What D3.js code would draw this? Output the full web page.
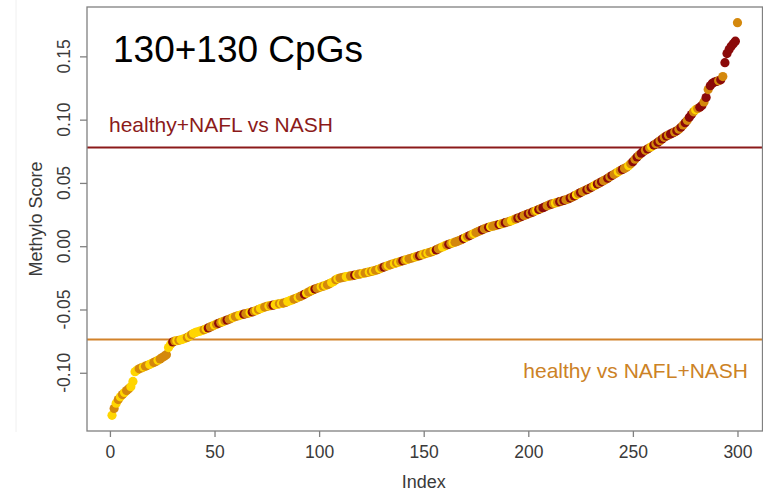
<!DOCTYPE html>
<html>
<head>
<meta charset="utf-8">
<script src="https://cdn.jsdelivr.net/npm/d3@7/dist/d3.min.js"></script>
<style>
  body { margin: 0; background: #fff; }
  svg { display: block; font-family: "Liberation Sans", Arial, sans-serif; }
</style>
</head>
<body>
<svg id="chart" width="763" height="500"></svg>
<script>
// sorted methylation scores, index 1..300
var scores = [
  -0.1336, -0.1282, -0.1241, -0.1212, -0.1190, -0.1172, -0.1156, -0.1141, -0.1126, -0.1110,
  -0.1068, -0.0992, -0.0978, -0.0969, -0.0962, -0.0955, -0.0948, -0.0941, -0.0934, -0.0926,
  -0.0918, -0.0910, -0.0901, -0.0891, -0.0880, -0.0869, -0.0857, -0.0801, -0.0776, -0.0757,
  -0.0749, -0.0746, -0.0743, -0.0739, -0.0734, -0.0728, -0.0721, -0.0711, -0.0699, -0.0688,
  -0.0681, -0.0676, -0.0671, -0.0666, -0.0660, -0.0653, -0.0646, -0.0638, -0.0631, -0.0623,
  -0.0616, -0.0609, -0.0602, -0.0596, -0.0589, -0.0583, -0.0577, -0.0570, -0.0562, -0.0556,
  -0.0551, -0.0546, -0.0541, -0.0537, -0.0533, -0.0529, -0.0524, -0.0519, -0.0514, -0.0507,
  -0.0500, -0.0493, -0.0487, -0.0481, -0.0476, -0.0472, -0.0469, -0.0466, -0.0462, -0.0458,
  -0.0455, -0.0452, -0.0449, -0.0444, -0.0437, -0.0430, -0.0424, -0.0418, -0.0411, -0.0404,
  -0.0397, -0.0389, -0.0380, -0.0371, -0.0362, -0.0353, -0.0345, -0.0339, -0.0333, -0.0327,
  -0.0321, -0.0316, -0.0310, -0.0304, -0.0296, -0.0287, -0.0278, -0.0265, -0.0256, -0.0252,
  -0.0248, -0.0245, -0.0241, -0.0238, -0.0235, -0.0232, -0.0228, -0.0225, -0.0221, -0.0218,
  -0.0214, -0.0211, -0.0207, -0.0203, -0.0199, -0.0195, -0.0190, -0.0185, -0.0178, -0.0171,
  -0.0165, -0.0159, -0.0153, -0.0147, -0.0141, -0.0136, -0.0131, -0.0126, -0.0121, -0.0115,
  -0.0110, -0.0105, -0.0100, -0.0095, -0.0090, -0.0085, -0.0080, -0.0075, -0.0069, -0.0063,
  -0.0058, -0.0053, -0.0048, -0.0043, -0.0036, -0.0029, -0.0021, -0.0013, -0.0006, 0.0002,
  0.0009, 0.0015, 0.0021, 0.0027, 0.0032, 0.0038, 0.0045, 0.0052, 0.0060, 0.0068,
  0.0076, 0.0084, 0.0092, 0.0100, 0.0108, 0.0116, 0.0123, 0.0130, 0.0137, 0.0144,
  0.0149, 0.0154, 0.0158, 0.0162, 0.0167, 0.0171, 0.0176, 0.0181, 0.0186, 0.0191,
  0.0196, 0.0202, 0.0209, 0.0216, 0.0223, 0.0229, 0.0236, 0.0243, 0.0249, 0.0256,
  0.0262, 0.0269, 0.0276, 0.0283, 0.0290, 0.0297, 0.0304, 0.0311, 0.0319, 0.0326,
  0.0332, 0.0337, 0.0342, 0.0347, 0.0352, 0.0357, 0.0362, 0.0367, 0.0373, 0.0380,
  0.0388, 0.0397, 0.0406, 0.0415, 0.0424, 0.0432, 0.0440, 0.0447, 0.0455, 0.0464,
  0.0473, 0.0482, 0.0491, 0.0500, 0.0509, 0.0518, 0.0527, 0.0537, 0.0548, 0.0558,
  0.0568, 0.0578, 0.0588, 0.0598, 0.0607, 0.0615, 0.0624, 0.0636, 0.0652, 0.0668,
  0.0687, 0.0705, 0.0720, 0.0735, 0.0748, 0.0758, 0.0768, 0.0778, 0.0788, 0.0799,
  0.0810, 0.0822, 0.0834, 0.0847, 0.0860, 0.0870, 0.0879, 0.0887, 0.0895, 0.0903,
  0.0912, 0.0925, 0.0940, 0.0958, 0.0976, 0.0995, 0.1018, 0.1040, 0.1062, 0.1078,
  0.1088, 0.1098, 0.1112, 0.1140, 0.1175, 0.1238, 0.1268, 0.1287, 0.1297, 0.1302,
  0.1308, 0.1315, 0.1340, 0.1450, 0.1522, 0.1555, 0.1580, 0.1600, 0.1620, 0.1766
];

// H = healthy, L = NAFL, N = NASH (same order as scores)
var groups = (
  "HLHLHLHLLH HHHLLHLLHH LLHLLLLHHN LHLHHHLHLH HHHHLHNLLH" +
  "LNLHLNLLHL LHHNLLHNLH LHHLLHLNHH LHLLHHHLLH LLNHLLHNLL" +
  "HLHLLHHLHL LLHHLLNHLL HLLHLHLLHL NLHLLHLHLN LHLLLHLNLH" +
  "LHLLHNLLHH LNLHLLLLNH LNLHLLLNLL NHLLLNHLNL LHHLNLNLLN" +
  "LNLHNLNNLL NLHLNLNLLN LNHLNLLNLN LHNLNLLNLN LLHLNLLHLN" +
  "LNLNNLNLHN LNLNLNLNNL NLNLNLNNLH LNNLNLNNNN LNLNNNNNNL"
).replace(/ /g, "").split("");

var groupColors = { H: "#FFD500", L: "#D4880C", N: "#8B0A0A" };

var xTicks = [0, 50, 100, 150, 200, 250, 300];
var yTicks = [-0.10, -0.05, 0.00, 0.05, 0.10, 0.15];
var yTickLabels = ["-0.10", "-0.05", "0.00", "0.05", "0.10", "0.15"];

var cutNash = 0.078;     // healthy+NAFL vs NASH
var cutHealthy = -0.0738; // healthy vs NAFL+NASH

var svg = d3.select("#chart");
var plot = { left: 87, right: 762.5, top: 7, bottom: 431 };

// R style 4% padding
var n = scores.length;
var xPad = (n - 1) * 0.04;
var x = d3.scaleLinear().domain([1 - xPad, n + xPad]).range([plot.left, plot.right]);
var yMin = d3.min(scores), yMax = d3.max(scores), yPad = (yMax - yMin) * 0.04;
var y = d3.scaleLinear().domain([yMin - yPad, yMax + yPad]).range([plot.bottom, plot.top]);

// faint frame line from the original screenshot
svg.append("line").attr("x1", 16).attr("x2", 16).attr("y1", 0).attr("y2", 432)
  .attr("stroke", "#f0f0f0").attr("stroke-width", 1);

// cut-off lines
svg.append("line")
  .attr("x1", plot.left).attr("x2", plot.right)
  .attr("y1", y(cutNash)).attr("y2", y(cutNash))
  .attr("stroke", "#8B1A1A").attr("stroke-width", 2);
svg.append("line")
  .attr("x1", plot.left).attr("x2", plot.right)
  .attr("y1", y(cutHealthy)).attr("y2", y(cutHealthy))
  .attr("stroke", "#D2822A").attr("stroke-width", 2);

// points
svg.append("g").selectAll("circle")
  .data(scores)
  .enter()
  .append("circle")
  .attr("cx", function(d, i) { return x(i + 1); })
  .attr("cy", function(d) { return y(d); })
  .attr("r", 4.6)
  .attr("fill", function(d, i) { return groupColors[groups[i]]; });

// box
svg.append("rect")
  .attr("x", plot.left).attr("y", plot.top)
  .attr("width", plot.right - plot.left).attr("height", plot.bottom - plot.top)
  .attr("fill", "none").attr("stroke", "#808080").attr("stroke-width", 1.3);

// x axis
var xAxis = svg.append("g").attr("transform", "translate(0," + plot.bottom + ")")
  .call(d3.axisBottom(x).tickValues(xTicks).tickSize(6).tickPadding(9));
xAxis.select(".domain").remove();
xAxis.selectAll("line").attr("stroke", "#808080").attr("stroke-width", 1.3);
xAxis.selectAll("text").attr("font-size", "17.5px").attr("fill", "#3a3a3a")
  .attr("font-family", "Liberation Sans, Arial, sans-serif");

// y axis, rotated labels like R
var yAxis = svg.append("g").attr("transform", "translate(" + plot.left + ",0)")
  .call(d3.axisLeft(y).tickValues(yTicks).tickSize(7).tickFormat(""));
yAxis.select(".domain").remove();
yAxis.selectAll("line").attr("stroke", "#808080").attr("stroke-width", 1.3);
svg.append("g").selectAll("text")
  .data(yTicks)
  .enter()
  .append("text")
  .attr("transform", function(d) { return "translate(70," + y(d) + ") rotate(-90)"; })
  .attr("text-anchor", "middle")
  .attr("font-size", "17.5px")
  .attr("fill", "#3a3a3a")
  .text(function(d, i) { return yTickLabels[i]; });

// axis titles
svg.append("text")
  .attr("x", x(150)).attr("y", 488)
  .attr("text-anchor", "middle").attr("font-size", "18px").attr("fill", "#3a3a3a")
  .text("Index");
svg.append("text")
  .attr("transform", "translate(41.5," + ((plot.top + plot.bottom) / 2) + ") rotate(-90)")
  .attr("text-anchor", "middle").attr("font-size", "18px").attr("fill", "#3a3a3a")
  .text("Methylo Score");

// annotations
svg.append("text")
  .attr("x", 113).attr("y", 62)
  .attr("font-size", "37px").attr("fill", "#000")
  .text("130+130 CpGs");
svg.append("text")
  .attr("x", 109).attr("y", 131.5)
  .attr("font-size", "21px").attr("fill", "#8B1A1A")
  .text("healthy+NAFL vs NASH");
svg.append("text")
  .attr("x", 748).attr("y", 377.5)
  .attr("text-anchor", "end")
  .attr("font-size", "21px").attr("fill", "#CC8226")
  .text("healthy vs NAFL+NASH");
</script>
</body>
</html>
